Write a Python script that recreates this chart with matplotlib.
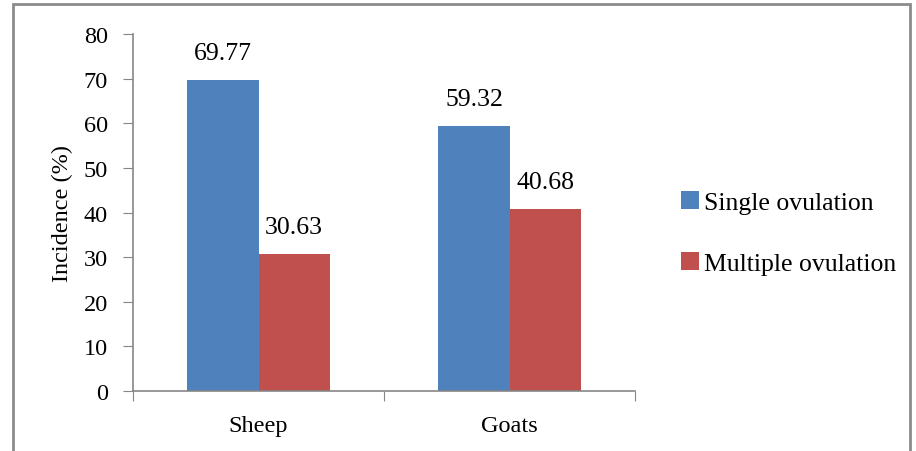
import matplotlib.pyplot as plt
import matplotlib
from matplotlib.patches import Rectangle
import numpy as np

categories = ['Sheep', 'Goats']
single = [69.77, 59.32]
multiple = [30.63, 40.68]
series_names = ['Single ovulation', 'Multiple ovulation']

matplotlib.rcParams['font.family'] = ['Liberation Serif', 'DejaVu Serif']
matplotlib.rcParams['font.size'] = 17.5

fig = plt.figure(figsize=(9.16, 4.52), dpi=100)
ax = fig.add_axes([133/916, 1-392/452, 502/916, 357/452])

# chart border
fig.patches.append(Rectangle((13/916, -0.1), 897/916, 1.1 - 5/452, transform=fig.transFigure,
                             fill=False, edgecolor='#8c8c8c', linewidth=2))

x = np.arange(len(categories)) + 0.5
w = 0.283
blue = '#4F81BD'
red = '#C0504D'
b1 = ax.bar(x - w/2, single, w, color=blue, label=series_names[0])
b2 = ax.bar(x + w/2, multiple, w, color=red, label=series_names[1])

for bars in (b1, b2):
    for rect in bars:
        h = rect.get_height()
        ax.text(rect.get_x() + rect.get_width()/2., h + 3.6, '%.2f' % h,
                ha='center', va='bottom', fontsize=18.5)

ax.set_xlim(0, 2)
ax.set_ylim(0, 80)
ax.set_yticks(range(0, 81, 10))
ax.set_xticks([0, 1, 2])
ax.set_xticklabels([])
ax.set_xticks(x, minor=True)
ax.set_xticklabels(categories, minor=True)
ax.tick_params(axis='x', which='minor', length=0, pad=17)
ax.tick_params(axis='x', which='major', length=7, color='#868686', direction='out')
ax.tick_params(axis='y', length=7, color='#868686', direction='out', pad=11)

for s in ['top', 'right']:
    ax.spines[s].set_visible(False)
for s in ['left', 'bottom']:
    ax.spines[s].set_color('#868686')
    ax.spines[s].set_linewidth(1.2)

ax.set_ylabel('Incidence (%)', labelpad=8)

fig.legend(handles=[b1, b2], labels=series_names, loc='center left',
           bbox_to_anchor=(658/916, 1-234/452), frameon=False,
           handlelength=0.7, handleheight=0.7, handletextpad=0.2,
           labelspacing=1.5, fontsize=18.5)

plt.savefig('out.png', dpi=100)
